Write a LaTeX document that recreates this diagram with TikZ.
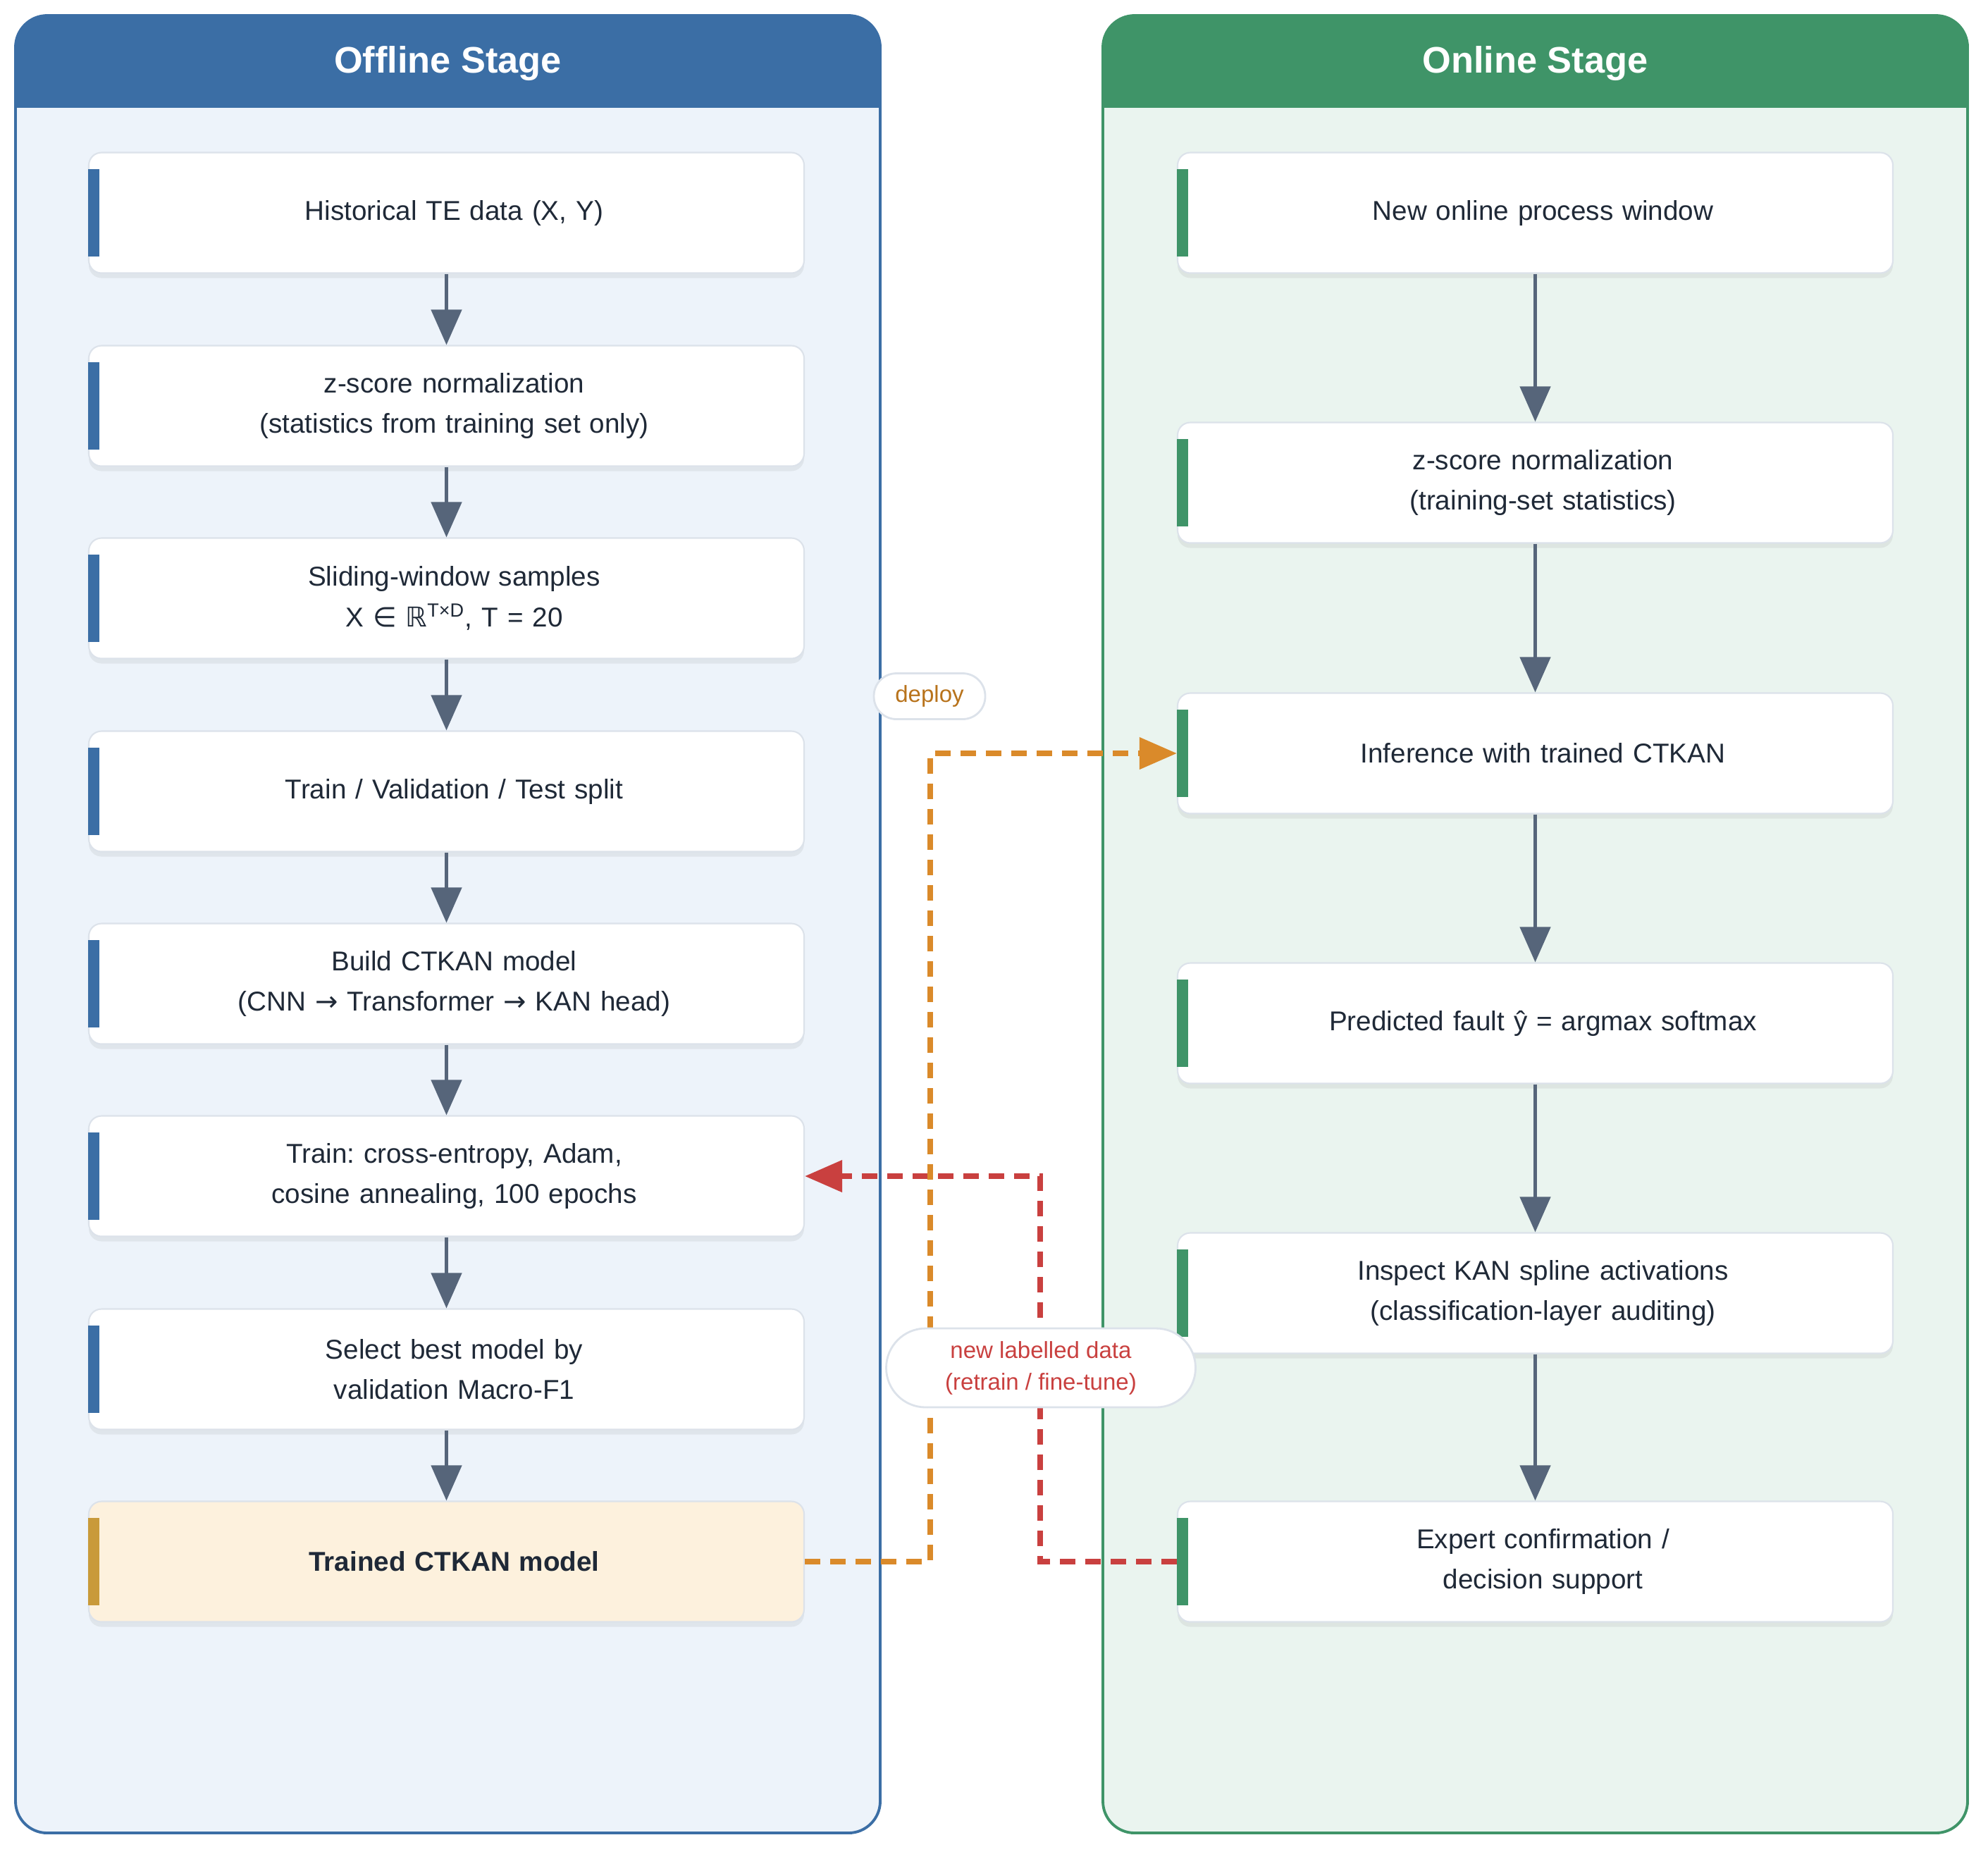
\documentclass[tikz,border=0pt]{standalone}
\usepackage{fontspec}
\setmainfont{Liberation Sans}
\newfontfamily\symfont{DejaVu Sans}
\usetikzlibrary{arrows.meta,positioning,shadows}

\definecolor{offblue}{HTML}{3B6EA5}
\definecolor{offfill}{HTML}{EDF3FA}
\definecolor{ongreen}{HTML}{3F9468}
\definecolor{onfill}{HTML}{EAF4EF}
\definecolor{ink}{HTML}{1F2937}
\definecolor{boxline}{HTML}{DCE2EA}
\definecolor{flowgray}{HTML}{56657A}
\definecolor{deployorange}{HTML}{DA8A2A}
\definecolor{deploytext}{HTML}{B8731C}
\definecolor{retrainred}{HTML}{C9403F}
\definecolor{modelfill}{HTML}{FDF1DD}
\definecolor{modelbar}{HTML}{C99A3A}

\begin{document}
\begin{tikzpicture}[x=1cm,y=1cm]
\tikzset{
  panelline/.style={draw=#1,line width=1.1pt,rounded corners=0.45cm},
  titletext/.style={text=white,font=\fontsize{14.9}{17}\selectfont\bfseries},
  stepbox/.style={draw=boxline,line width=0.6pt,fill=white,rounded corners=0.18cm,
    minimum width=10.15cm,minimum height=1.71cm,text width=9.75cm,inner xsep=0.2cm,
    align=center,text=ink,font=\fontsize{11}{16.3}\selectfont,
    execute at begin node={\frenchspacing\leftskip=0.22cm plus 1fill\rightskip=0pt plus 1fill\parfillskip=0pt},
    drop shadow={opacity=0.12,shadow xshift=0pt,shadow yshift=-0.07cm}},
  flow/.style={draw=flowgray,line width=1.3pt,-{Triangle[length=0.5cm,width=0.43cm]}},
  backline/.style={line width=2.1pt,dash pattern=on 0.22cm off 0.14cm,
    -{Triangle[length=0.53cm,width=0.44cm]}},
  pill/.style={draw=boxline,line width=0.8pt,fill=white,align=center,
    font=\fontsize{9.4}{12.8}\selectfont,inner sep=0pt}
}
\useasboundingbox (0,0) rectangle (28.21,-26.37);

% offline panel
\begin{scope}
\clip[rounded corners=0.45cm] (0.22,-0.22) rectangle (12.49,-26.01);
\fill[offfill] (0.22,-0.22) rectangle (12.49,-26.01);
\fill[offblue] (0.22,-0.22) rectangle (12.49,-1.53);
\end{scope}
\draw[panelline=offblue] (0.22,-0.22) rectangle (12.49,-26.01);
\node[titletext] (t_off) at (6.355,-0.9) {Offline Stage};

% online panel
\begin{scope}
\clip[rounded corners=0.45cm] (15.65,-0.22) rectangle (27.92,-26.01);
\fill[onfill] (15.65,-0.22) rectangle (27.92,-26.01);
\fill[ongreen] (15.65,-0.22) rectangle (27.92,-1.53);
\end{scope}
\draw[panelline=ongreen] (15.65,-0.22) rectangle (27.92,-26.01);
\node[titletext] (t_on) at (21.785,-0.9) {Online Stage};

% offline steps
\node[stepbox] (n_hist) at (6.335,-3.02) {Historical TE data (X, Y)};
\node[stepbox] (n_norm) at (6.335,-5.76) {z-score normalization\\(statistics from training set only)};
\node[stepbox] (n_win) at (6.335,-8.49) {Sliding-window samples\\X {\symfont ∈ ℝ}\textsuperscript{T×D}, T = 20};
\node[stepbox] (n_split) at (6.335,-11.23) {Train / Validation / Test split};
\node[stepbox] (n_build) at (6.335,-13.96) {Build CTKAN model\\(CNN {\symfont →} Transformer {\symfont →} KAN head)};
\node[stepbox] (n_train) at (6.335,-16.69) {Train: cross-entropy, Adam,\\cosine annealing, 100 epochs};
\node[stepbox] (n_select) at (6.335,-19.43) {Select best model by\\validation Macro-F1};
\node[stepbox,fill=modelfill,font=\fontsize{11}{16.3}\selectfont\bfseries] (n_model) at (6.335,-22.16) {Trained CTKAN model};

% online steps
\node[stepbox] (n_new) at (21.785,-3.02) {New online process window};
\node[stepbox] (n_onorm) at (21.785,-6.85) {z-score normalization\\(training-set statistics)};
\node[stepbox] (n_infer) at (21.785,-10.69) {Inference with trained CTKAN};
\node[stepbox] (n_pred) at (21.785,-14.52) {Predicted fault ŷ = argmax softmax};
\node[stepbox] (n_inspect) at (21.785,-18.35) {Inspect KAN spline activations\\(classification-layer auditing)};
\node[stepbox] (n_expert) at (21.785,-22.16) {Expert confirmation /\\decision support};

% accent bars
\foreach \n in {n_hist,n_norm,n_win,n_split,n_build,n_train,n_select}
  \fill[offblue] ([yshift=-0.25cm]\n.north west) rectangle ([xshift=0.16cm,yshift=0.25cm]\n.south west);
\fill[modelbar] ([yshift=-0.25cm]n_model.north west) rectangle ([xshift=0.16cm,yshift=0.25cm]n_model.south west);
\foreach \n in {n_new,n_onorm,n_infer,n_pred,n_inspect,n_expert}
  \fill[ongreen] ([yshift=-0.25cm]\n.north west) rectangle ([xshift=0.16cm,yshift=0.25cm]\n.south west);

% main flow
\draw[flow] (n_hist) -- (n_norm);
\draw[flow] (n_norm) -- (n_win);
\draw[flow] (n_win) -- (n_split);
\draw[flow] (n_split) -- (n_build);
\draw[flow] (n_build) -- (n_train);
\draw[flow] (n_train) -- (n_select);
\draw[flow] (n_select) -- (n_model);
\draw[flow] (n_new) -- (n_onorm);
\draw[flow] (n_onorm) -- (n_infer);
\draw[flow] (n_infer) -- (n_pred);
\draw[flow] (n_pred) -- (n_inspect);
\draw[flow] (n_inspect) -- (n_expert);

% deploy and feedback
\draw[backline,draw=retrainred] (n_expert.west) -- ++(-1.94,0) |- (n_train.east);
\draw[backline,draw=deployorange] (n_model.east) -- ++(1.78,0) |- (n_infer.west);

\node[pill,minimum width=1.58cm,minimum height=0.65cm,rounded corners=0.32cm,text=deploytext] (l_deploy) at (13.19,-9.88) {deploy};
\node[pill,minimum width=4.39cm,minimum height=1.12cm,rounded corners=0.56cm,text=retrainred] (l_retrain) at (14.77,-19.41) {new labelled data\\(retrain / fine-tune)};
\end{tikzpicture}
\end{document}
